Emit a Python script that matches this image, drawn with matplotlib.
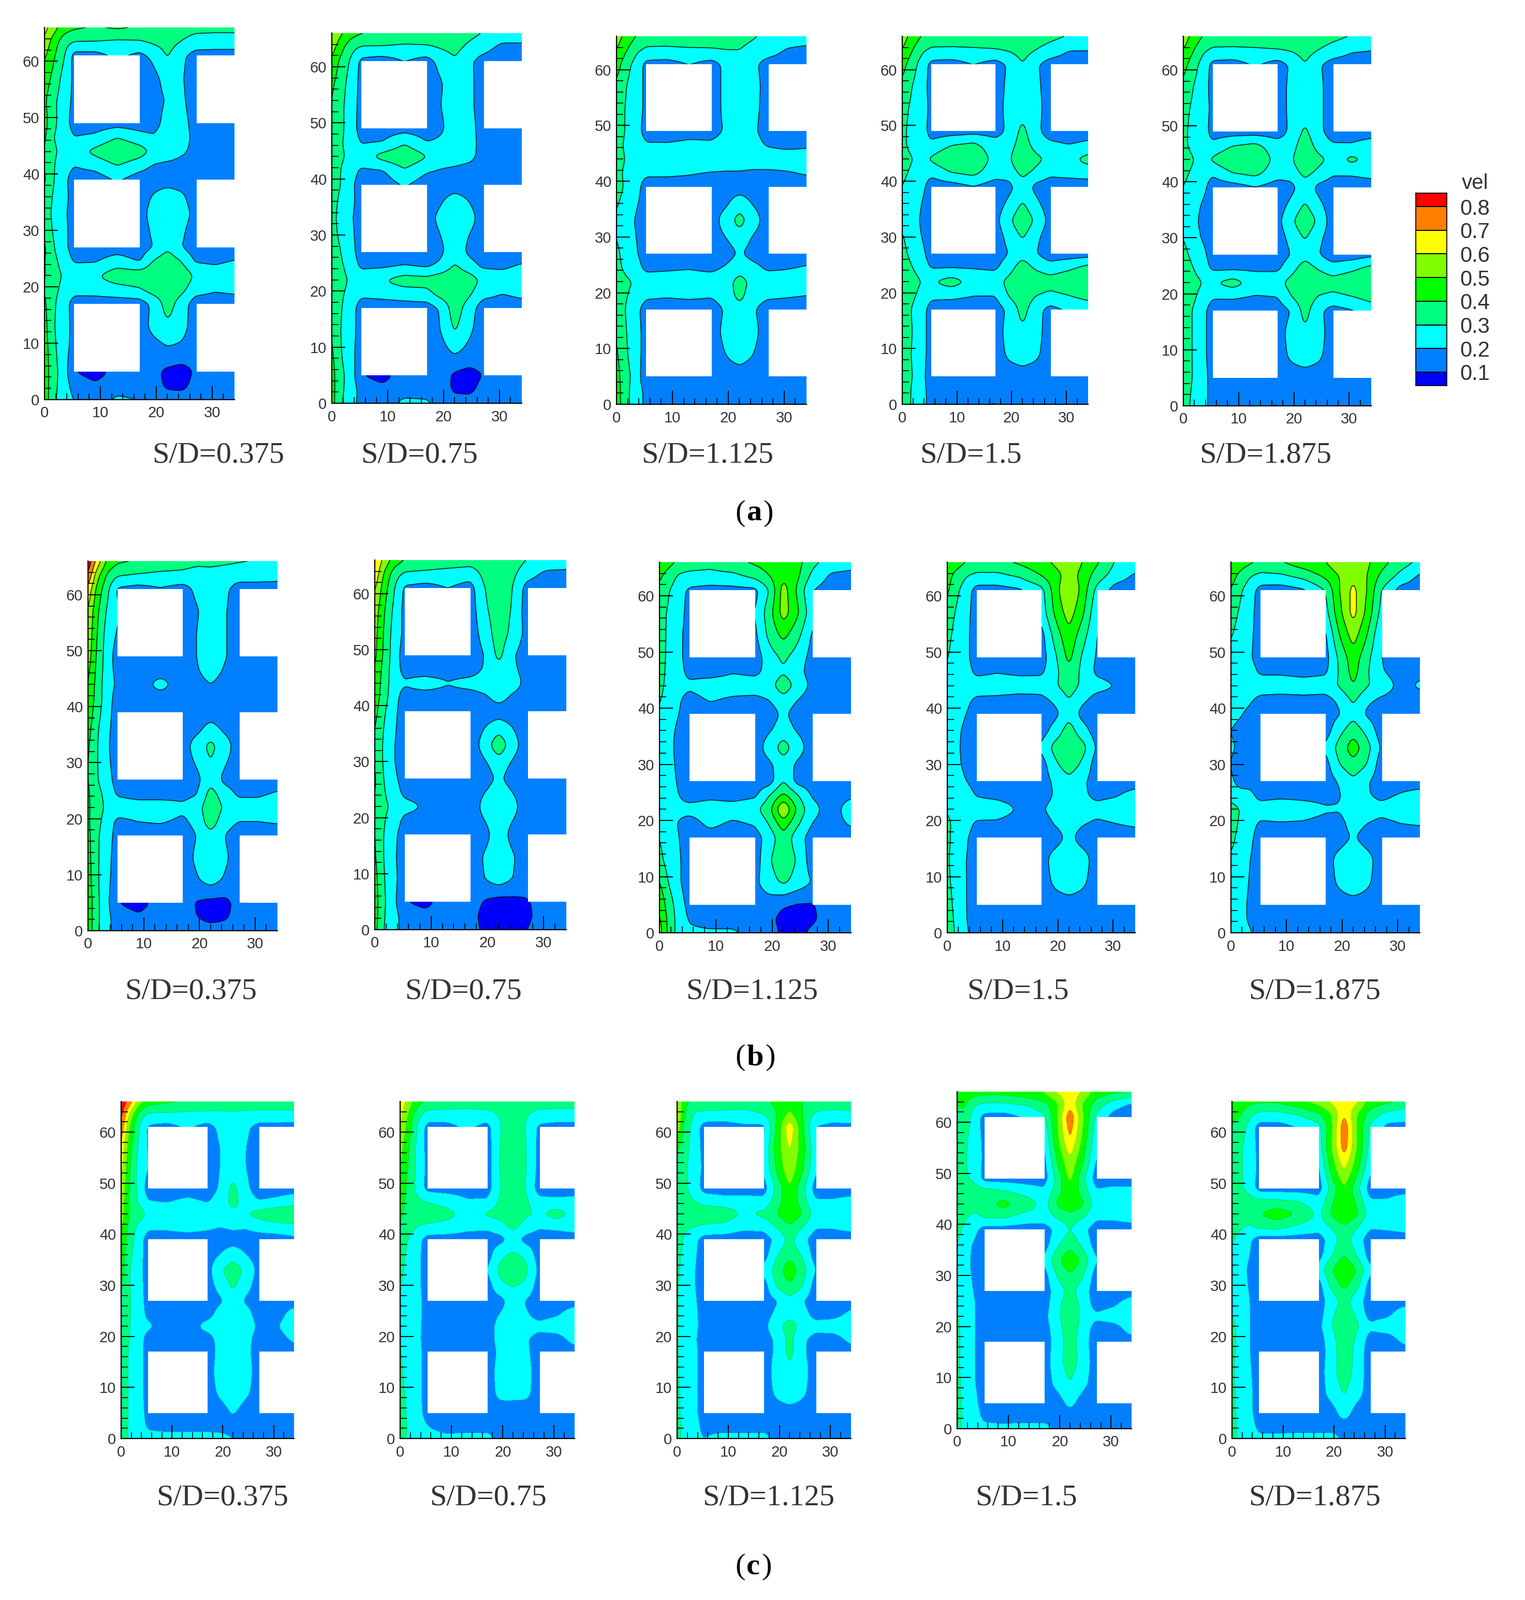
import numpy as np
import matplotlib
matplotlib.use("Agg")
import matplotlib.pyplot as plt
from matplotlib.colors import ListedColormap, BoundaryNorm
from matplotlib.patches import Rectangle

W, H = 2946, 3091
levels = [0.1, 0.2, 0.3, 0.4, 0.5, 0.6, 0.7, 0.8]
colors = ['#0000FF', '#0080FF', '#00FFFF', '#00FF80', '#00FF00', '#80FF00', '#FFFF00', '#FF8000', '#FF0000']
x_nodes = [0, 1.5, 3.5, 5.3, 9, 13, 17, 19.5, 22, 24.5, 27, 30.5, 34]
y_nodes = [66, 63.5, 61, 57, 53, 49, 46.5, 44, 41.5, 39, 36, 33, 30, 27, 24.5, 22, 19.5, 17, 13, 9, 5, 2.5, 0]
blocks_x = [(5.3, 17), (27.2, 36)]
blocks_y = [(5, 17), (27, 39), (49, 61)]
sd_labels = ['S/D=0.375', 'S/D=0.75', 'S/D=1.125', 'S/D=1.5', 'S/D=1.875']

vel_a1 = [[64,55,45,42,40,42,40,38,36,34,33,33,33],[58,46,34,30,30,28,29,32,34,30,26,25,25],[52,42,31,16,16,22,17,22,31,22,16,16,16],[45,38,26,18,15,15,15,17,24,21,15,15,15],[42,33,24,18,15,15,15,16,21,22,15,15,15],[44,33,24,16,15,16,15,16,24,24,16,12,11],[42,30,26,20,22,30,24,21,26,25,17,15,15],[40,32,27,27,33,40,35,28,27,22,17,15,15],[40,31,24,20,23,30,24,19,17,16,15,15,15],[42,31,22,16,15,21,15,15,15,15,15,14,13],[38,29,23,16,15,15,15,21,26,22,15,15,15],[36,28,22,15,15,15,16,24,28,25,17,15,15],[38,29,23,15,15,15,15,22,28,22,15,15,15],[42,31,23,15,15,15,15,20,28,20,15,13,12],[41,33,26,19,19,25,19,31,37,30,19,18,21],[41,34,29,27,29,36,37,38,39,37,29,26,26],[40,33,27,23,24,26,29,35,37,33,24,21,22],[42,32,24,16,15,15,15,22,35,25,15,15,16],[44,31,24,17,15,15,15,23,28,24,15,15,15],[45,33,23,17,15,15,15,16,19,18,15,15,15],[46,34,25,10,5,14,15,12,8,6,11,15,15],[46,34,24,17,12,15,15,14,8,7,13,15,15],[46,33,23,20,15,22,20,15,15,15,15,15,15]]
vel_a2 = [[62,52,44,41,40,40,40,38,36,33,30,27,27],[55,44,33,29,29,27,28,31,33,28,24,17,17],[48,38,28,17,15,20,16,23,29,22,16,15,15],[42,35,25,17,15,15,15,19,26,23,15,15,15],[40,33,24,17,15,15,15,20,25,23,15,15,15],[41,33,24,16,15,16,15,18,26,25,15,12,13],[38,31,26,19,20,29,20,22,27,25,16,15,15],[37,32,27,27,34,38,31,27,27,24,16,15,15],[37,30,24,18,19,29,21,19,17,15,15,15,15],[39,30,22,15,15,21,15,15,15,15,15,14,14],[36,27,22,16,15,15,15,19,25,20,15,15,15],[34,26,21,15,15,15,16,23,27,24,16,15,15],[36,27,22,15,15,15,15,20,26,20,15,15,15],[41,30,23,15,15,15,15,18,26,18,15,15,15],[39,32,25,18,18,20,18,22,31,24,18,18,21],[39,34,28,26,30,35,34,37,39,36,28,25,26],[38,32,26,22,23,25,27,34,38,32,23,20,22],[40,31,24,15,15,15,15,21,36,25,15,15,16],[40,30,23,16,15,15,15,20,31,22,15,15,15],[42,31,22,16,15,15,15,16,21,17,15,15,15],[44,33,25,10,6,15,15,15,8,6,10,15,15],[44,33,24,17,13,15,15,15,8,7,13,15,15],[44,32,22,18,15,23,22,15,15,15,15,15,15]]
vel_a3 = [[55,48,40,36,35,38,36,35,33,31,28,26,26],[50,42,32,28,28,28,29,30,30,27,25,19,17],[45,35,26,17,16,20,16,22,26,22,16,15,15],[38,31,24,18,15,15,16,22,26,24,16,15,15],[34,30,24,18,15,15,16,22,26,23,16,15,15],[34,30,24,16,15,17,16,21,26,22,15,15,15],[33,29,26,21,21,22,22,25,26,24,19,17,18],[33,30,26,27,29,27,29,26,26,26,26,26,26],[32,29,25,22,22,21,19,19,19,18,18,19,21],[34,29,24,15,15,15,15,15,15,15,15,15,15],[31,27,21,16,15,15,15,18,26,19,15,15,15],[29,25,19,15,15,15,15,25,34,25,15,15,15],[30,26,20,15,15,15,15,20,26,19,15,15,15],[32,27,21,15,15,15,15,15,21,16,15,15,15],[33,28,24,17,18,19,17,21,27,23,18,19,21],[37,32,29,26,26,26,26,27,33,28,26,26,25],[37,31,27,22,21,22,21,25,33,25,22,21,20],[38,30,23,15,15,15,15,21,27,21,15,15,15],[39,31,24,16,15,15,15,23,27,23,15,15,15],[42,32,24,16,15,15,15,20,25,20,15,15,15],[44,34,26,12,9,15,15,15,15,15,15,15,15],[45,34,24,18,15,15,15,15,15,15,15,15,15],[46,34,24,18,15,19,20,15,15,15,15,15,15]]
vel_a4 = [[55,48,40,37,36,38,39,38,36,35,33,30,28],[50,42,32,28,28,28,29,31,34,30,26,20,20],[44,36,26,17,16,20,16,21,30,21,16,15,15],[38,31,24,17,15,15,16,22,26,22,16,15,15],[33,29,24,18,15,15,16,23,26,23,16,15,15],[32,28,25,16,15,16,16,22,33,22,16,15,16],[32,28,26,22,30,33,24,25,36,25,22,20,22],[33,31,27,32,40,38,27,28,42,33,28,28,34],[32,29,25,22,30,33,24,24,33,27,22,23,24],[30,27,23,15,15,19,15,17,25,17,15,15,15],[30,26,20,15,15,15,15,22,31,22,15,15,15],[28,24,19,15,15,15,17,28,38,28,17,15,15],[31,26,20,15,15,15,15,23,31,22,15,15,15],[33,28,23,15,15,15,15,20,26,20,15,15,15],[37,31,26,19,19,19,18,26,36,28,24,28,34],[39,34,30,30,35,28,27,33,39,38,35,38,40],[40,33,27,22,22,20,20,31,37,30,27,30,34],[40,30,24,16,15,15,15,22,34,23,17,21,23],[41,31,24,16,15,15,15,24,28,24,15,15,15],[41,30,24,16,15,15,15,22,26,22,15,15,15],[39,31,25,12,10,15,15,15,15,15,15,15,15],[38,30,23,17,15,15,15,15,15,15,15,15,15],[38,30,22,18,15,18,21,15,15,15,15,15,15]]
vel_a5 = [[56,48,40,37,36,38,40,38,37,35,33,30,28],[50,42,32,28,28,28,29,31,34,30,26,21,20],[44,36,26,17,16,21,16,21,30,21,16,15,15],[38,31,24,17,15,15,16,22,26,22,16,15,15],[33,29,24,18,15,15,16,22,26,22,16,15,15],[32,28,25,16,15,15,15,22,32,22,16,15,15],[32,28,26,22,30,33,24,25,37,25,21,21,25],[34,31,27,32,40,38,27,28,42,33,28,33,28],[32,29,25,21,30,33,24,24,33,27,21,21,23],[30,27,23,15,15,19,15,17,25,17,15,15,15],[29,25,19,15,15,15,15,22,31,22,15,15,15],[28,24,17,15,15,15,17,28,38,28,15,15,15],[30,25,19,15,15,15,15,23,31,22,15,15,15],[33,28,23,15,15,15,15,20,26,20,15,15,17],[36,31,25,18,18,18,18,26,36,29,24,28,34],[38,34,30,30,35,27,27,34,39,38,35,38,40],[38,33,26,21,21,19,20,30,37,29,27,30,34],[38,30,23,15,15,15,15,20,34,22,16,19,24],[39,30,23,15,15,15,15,24,28,24,15,15,15],[39,30,23,15,15,15,15,22,26,22,15,15,15],[38,30,25,15,15,15,15,15,15,15,15,15,15],[37,29,23,17,15,15,15,15,15,15,15,15,15],[36,28,22,18,15,18,21,15,15,15,15,15,15]]
vel_b1 = [[88,68,48,42,40,38,35,33,33,32,31,30,30],[80,55,38,31,29,27,27,25,26,25,24,24,24],[68,48,32,18,16,19,16,22,25,22,16,16,15],[60,43,28,21,15,15,15,19,25,21,15,15,15],[58,41,25,19,15,15,15,20,26,21,15,15,15],[56,39,24,16,15,15,15,20,26,21,15,15,15],[53,38,24,17,15,15,15,19,25,19,15,15,15],[51,37,23,19,15,24,15,16,20,16,15,15,15],[50,36,24,16,15,15,15,15,15,15,15,15,15],[48,34,24,14,13,14,15,15,15,15,15,15,15],[44,32,22,15,15,15,15,17,24,18,15,15,15],[42,31,21,15,15,15,15,25,33,25,15,15,15],[41,31,22,15,15,15,15,21,30,21,15,15,15],[41,31,24,15,15,15,15,17,27,17,15,15,15],[42,33,27,18,15,15,17,19,34,25,18,18,21],[42,34,28,27,26,26,22,26,37,29,25,25,27],[42,33,26,17,20,21,18,23,36,24,20,20,21],[43,32,24,16,15,15,15,20,27,20,15,15,15],[44,32,23,15,15,15,15,22,25,22,15,15,15],[45,32,22,15,15,15,15,19,24,19,15,15,15],[47,33,22,10,5,15,15,9,7,7,13,15,15],[47,33,22,16,12,15,15,10,6,8,14,15,15],[47,32,23,15,15,15,15,15,15,15,15,15,15]]
vel_b2 = [[72,58,46,40,38,37,35,36,38,35,30,28,28],[68,50,34,28,27,25,24,33,36,32,24,17,16],[62,46,30,18,16,20,16,30,37,30,16,15,15],[56,42,27,17,15,15,15,28,36,29,15,15,15],[54,40,25,18,15,15,15,24,36,27,17,15,15],[53,39,24,16,15,15,15,20,33,21,15,15,15],[50,37,24,17,15,15,15,21,27,22,16,15,15],[48,36,24,21,25,21,24,26,27,25,17,15,15],[46,35,23,16,15,15,15,18,24,18,15,15,15],[44,32,22,15,15,15,15,15,15,15,15,15,15],[41,30,21,15,15,15,15,20,26,20,15,15,15],[39,29,20,15,15,15,15,24,38,24,15,15,15],[40,29,20,15,15,15,15,19,26,19,15,15,15],[42,30,22,15,15,15,15,15,22,15,15,15,15],[41,31,25,17,15,15,15,20,26,20,15,15,15],[41,32,28,24,19,15,15,23,27,23,15,15,15],[41,31,25,17,15,15,15,20,25,20,15,15,15],[41,30,22,15,15,15,15,17,25,17,15,15,15],[42,30,21,15,15,15,15,21,25,21,15,15,15],[44,31,22,15,15,15,15,20,25,20,15,15,15],[45,32,22,10,7,15,15,9,6,7,9,15,15],[45,31,23,16,13,15,13,7,5,6,8,15,15],[44,30,24,15,15,15,14,8,6,7,10,15,15]]
vel_b3 = [[46,44,38,35,33,38,42,45,46,44,33,26,24],[42,36,28,27,27,27,33,40,48,42,28,18,17],[38,31,24,18,16,17,17,30,55,38,20,15,15],[34,29,24,16,15,15,20,36,55,42,24,15,15],[36,28,22,16,15,15,18,33,43,33,19,15,15],[37,27,22,16,15,15,15,25,32,25,17,15,13],[35,27,23,17,15,19,17,24,29,23,16,13,13],[33,27,24,22,26,26,26,27,36,27,18,15,15],[31,26,21,16,21,18,17,20,27,20,15,15,15],[29,24,20,15,15,15,15,15,22,15,15,13,14],[27,23,18,15,15,15,15,19,25,19,15,15,15],[27,23,17,15,15,15,15,25,35,25,15,15,15],[27,23,18,15,15,15,15,18,26,18,15,15,15],[27,23,19,15,15,15,15,15,30,16,15,13,12],[27,23,20,15,17,15,18,30,42,31,19,15,18],[28,25,23,24,26,26,28,37,62,38,24,15,26],[28,24,19,15,23,18,21,31,46,32,20,15,22],[30,25,20,15,15,15,16,24,37,24,16,13,14],[33,26,21,15,15,15,15,29,38,29,15,15,15],[41,30,21,15,15,15,18,26,32,26,20,15,15],[48,36,24,17,15,15,15,15,11,9,9,15,15],[52,38,25,19,15,15,15,12,7,6,8,15,15],[55,38,25,22,22,22,15,14,8,7,12,15,15]]
vel_b4 = [[44,45,40,38,38,42,47,52,56,50,42,29,26],[44,37,30,27,27,31,40,46,54,47,35,25,18],[42,33,24,16,16,18,26,45,62,46,27,15,15],[38,29,23,15,15,15,24,42,55,42,22,15,15],[34,26,22,15,15,15,16,34,48,34,20,15,15],[31,24,22,15,15,15,15,28,43,28,19,15,15],[28,24,24,17,19,17,18,27,38,27,18,15,15],[27,25,26,26,27,27,25,29,35,28,24,20,18],[25,24,22,18,17,15,17,22,30,22,16,15,15],[24,23,20,15,15,15,15,17,27,16,15,15,15],[23,22,18,15,15,15,15,24,35,24,15,15,15],[24,22,17,15,15,15,22,34,38,34,19,15,15],[25,22,18,15,15,15,15,28,36,28,15,15,15],[25,23,20,15,15,15,15,22,27,22,15,15,15],[27,24,25,19,17,15,15,21,26,22,17,19,24],[29,25,28,27,26,19,19,24,28,26,24,26,28],[33,26,24,18,18,15,15,21,26,21,18,20,22],[33,25,21,15,15,15,15,15,23,15,15,15,15],[32,24,20,15,15,15,15,25,28,25,15,15,15],[33,25,20,15,15,15,15,22,27,22,15,15,15],[36,26,20,14,15,15,15,15,15,15,15,15,15],[38,27,20,15,15,15,15,15,15,15,15,15,15],[40,28,21,16,15,15,15,15,15,15,15,15,15]]
vel_b5 = [[44,45,42,38,40,46,50,58,58,52,44,35,28],[44,38,30,27,28,33,42,50,58,50,38,27,18],[40,32,24,16,15,18,30,50,63,50,30,16,15],[35,29,23,15,15,15,26,47,64,47,27,15,15],[31,26,22,15,15,15,18,40,55,40,21,15,15],[27,24,21,15,15,15,16,32,46,33,20,15,13],[25,24,24,18,18,16,18,31,44,31,21,15,17],[24,25,26,26,26,26,26,31,40,31,27,17,22],[23,23,21,17,16,17,16,22,32,22,18,15,15],[22,21,18,15,15,15,15,19,27,18,15,15,14],[20,18,15,15,15,15,15,27,36,27,15,15,15],[21,19,15,15,15,15,22,34,46,34,19,15,15],[20,17,15,15,15,15,16,30,37,30,15,15,15],[21,18,16,15,15,15,15,21,28,21,15,15,15],[24,22,23,15,15,15,15,19,27,21,17,21,24],[36,30,28,27,33,28,22,21,27,26,24,26,28],[38,28,24,18,18,18,15,16,25,20,17,20,21],[34,26,22,15,15,15,15,15,21,15,15,15,15],[28,25,20,15,15,15,15,24,29,24,15,15,15],[26,25,19,15,15,15,15,22,28,22,15,15,15],[25,24,18,15,15,15,15,15,15,15,15,15,15],[25,24,18,15,15,15,15,15,15,15,15,15,15],[25,24,21,15,15,15,15,15,15,15,15,15,15]]
vel_c1 = [[88,78,56,45,42,40,38,38,37,37,36,36,36],[85,60,36,28,28,27,27,27,28,27,27,27,27],[78,52,30,18,16,21,16,22,26,22,16,16,15],[70,45,28,19,15,15,15,20,26,20,15,15,15],[64,42,26,20,15,15,15,20,26,20,15,15,15],[60,40,27,15,15,15,15,21,33,22,15,15,15],[57,39,28,20,19,22,19,24,34,25,20,22,26],[55,40,36,28,26,27,26,26,27,30,34,38,38],[52,38,27,22,22,24,22,20,22,21,24,26,28],[48,36,24,15,15,15,15,15,15,15,15,15,17],[46,33,24,15,15,15,15,20,26,20,15,15,15],[44,31,23,15,15,15,16,29,36,28,17,15,15],[42,31,24,15,15,15,15,24,32,24,15,15,15],[40,31,25,15,15,14,15,18,26,18,15,15,15],[40,31,25,17,15,15,15,24,26,24,15,15,24],[40,31,23,22,15,15,24,27,28,27,18,19,27],[39,30,24,16,15,15,15,24,26,24,15,15,22],[38,29,24,15,13,15,15,23,27,23,15,15,15],[37,29,24,15,15,15,15,25,29,25,15,15,15],[37,29,24,15,15,15,15,22,27,22,15,15,15],[37,29,25,16,15,15,15,15,21,15,15,15,15],[37,29,25,18,15,15,15,15,15,15,15,15,15],[36,28,25,24,25,25,25,24,20,15,15,15,15]]
vel_c2 = [[68,56,44,38,36,35,37,38,39,38,36,35,35],[64,50,33,26,26,26,26,31,36,31,26,26,26],[60,46,28,16,16,22,16,30,34,30,18,16,16],[54,42,26,17,15,15,15,31,33,31,17,15,15],[50,40,26,18,15,15,15,31,35,31,17,15,15],[47,38,26,16,15,15,15,30,36,30,15,15,15],[44,37,32,30,27,21,21,32,36,32,23,22,23],[42,37,34,34,33,28,32,34,38,32,29,35,27],[40,34,30,29,27,23,22,26,33,26,21,22,24],[37,30,23,15,15,15,15,16,23,16,15,15,15],[34,28,22,15,15,15,15,28,32,28,15,15,15],[32,27,22,15,15,15,20,33,38,33,18,15,15],[31,26,22,15,15,15,15,28,31,28,15,15,15],[30,26,23,15,15,14,15,16,25,19,15,15,15],[30,26,23,15,15,15,15,20,26,21,15,18,25],[30,26,22,16,15,15,15,24,27,25,23,26,28],[30,26,22,15,15,15,15,24,26,21,16,15,24],[31,26,23,15,13,15,15,22,26,22,15,15,15],[32,26,23,15,15,15,15,24,28,24,15,15,15],[34,27,23,15,15,15,15,23,26,23,15,15,15],[36,28,24,15,15,15,15,15,10,14,15,15,15],[37,29,25,20,15,15,15,15,14,15,15,15,15],[36,28,25,24,23,24,24,15,15,15,15,15,15]]
vel_c3 = [[62,42,38,38,38,36,38,43,48,40,38,38,38],[62,40,28,27,26,26,30,40,52,40,28,25,27],[58,36,25,15,15,18,17,42,68,42,19,17,17],[42,34,24,17,15,15,22,45,62,45,23,15,15],[39,32,24,18,15,15,22,42,58,42,22,15,15],[38,32,25,15,15,15,15,33,50,33,15,15,15],[38,33,30,27,24,24,23,35,48,35,21,21,23],[38,36,36,36,37,29,33,40,50,40,26,26,26],[36,32,30,29,27,22,23,31,38,31,21,21,23],[35,28,22,15,15,15,15,22,33,22,15,15,15],[33,27,21,15,15,15,15,29,37,29,15,15,15],[32,26,20,15,15,15,23,35,47,35,20,15,15],[31,26,20,15,15,15,15,32,39,31,15,15,15],[31,26,21,15,15,14,15,19,27,20,15,15,15],[31,26,22,15,15,15,15,22,27,24,15,15,22],[31,26,22,16,15,15,17,28,34,28,24,26,27],[31,26,21,15,15,15,15,22,33,22,16,15,23],[31,26,22,15,15,15,15,22,33,22,15,15,15],[31,26,22,15,15,15,15,24,28,24,15,15,15],[32,27,22,15,15,15,15,22,27,22,15,15,15],[32,27,22,15,15,15,15,15,15,15,15,15,15],[33,27,23,17,15,15,15,15,15,15,15,15,15],[33,27,22,20,24,24,24,15,15,15,15,15,15]]
vel_c4 = [[42,45,46,44,44,48,52,62,66,60,46,43,40],[40,42,30,28,28,30,36,48,68,48,36,24,17],[38,36,24,16,15,20,28,50,78,52,28,15,15],[36,32,25,17,15,15,22,48,72,48,24,15,15],[35,31,25,18,15,15,17,42,60,42,20,15,15],[34,31,28,15,15,15,15,33,53,33,15,15,15],[36,36,34,35,31,26,22,36,47,36,21,23,23],[38,37,37,37,44,38,26,42,48,42,26,26,27],[36,32,26,32,32,26,25,31,36,31,22,22,24],[34,27,22,15,15,15,15,22,30,22,15,15,15],[30,24,18,15,15,15,15,28,37,28,15,15,15],[28,23,17,15,15,15,22,38,48,38,21,15,15],[28,23,18,15,15,15,15,31,39,31,15,15,15],[28,24,19,15,15,13,15,24,34,24,15,15,15],[30,25,20,15,15,15,15,27,36,27,15,18,25],[31,26,20,15,15,15,17,28,37,28,22,25,27],[32,26,20,15,15,15,15,26,36,26,15,15,24],[32,27,20,13,13,15,15,24,36,24,15,15,15],[32,26,20,15,15,15,15,26,35,26,15,15,15],[33,26,20,15,15,15,15,23,30,23,15,15,15],[33,27,22,15,15,15,15,15,23,15,15,15,15],[34,27,24,17,15,15,15,15,15,15,15,15,15],[33,27,24,23,23,24,24,17,15,15,15,15,15]]
vel_c5 = [[42,44,44,42,42,48,55,62,68,62,46,43,37],[42,42,32,27,27,30,38,50,70,50,36,26,24],[40,36,26,15,15,20,26,48,78,50,28,17,17],[37,32,25,17,15,15,24,50,76,50,27,15,15],[37,32,25,18,15,15,18,44,62,44,22,15,15],[36,32,26,15,15,15,15,33,50,33,15,15,15],[38,38,34,33,32,30,23,38,50,38,21,21,26],[38,38,38,40,46,40,28,42,50,42,26,30,27],[36,32,28,33,34,28,24,31,39,31,21,22,24],[32,26,21,15,15,15,15,24,35,24,15,15,15],[28,24,20,15,15,15,15,29,40,29,15,15,15],[28,24,18,15,15,15,24,40,50,40,22,15,15],[28,24,19,15,15,15,15,33,43,33,15,15,15],[28,24,20,15,15,13,15,24,34,24,15,15,15],[30,25,20,15,15,15,15,28,36,28,15,17,26],[33,27,20,15,15,15,17,30,38,32,22,26,28],[33,27,20,15,15,15,15,26,38,28,16,15,24],[33,26,20,15,13,15,15,24,38,26,15,15,15],[32,25,21,15,15,15,15,26,36,26,15,15,15],[33,26,22,15,15,15,15,24,31,24,15,15,15],[34,26,22,15,15,15,15,15,25,15,15,15,15],[34,27,24,17,15,15,15,15,15,15,15,15,15],[34,27,25,22,23,24,24,24,18,15,15,15,15]]

# panel boxes in pixels: left, right, top, bottom
row_a = [(86,453,53,772),(641,1008,64,779),(1191,1558,70,781),(1743,2102,70,781),(2286,2649,70,784)]
row_b = [(170,536,1084,1798),(724,1094,1082,1796),(1274,1644,1086,1802),(1830,2193,1086,1802),(2378,2743,1086,1802)]
row_c = [(234,568,2128,2779),(773,1110,2128,2779),(1308,1644,2128,2779),(1849,2186,2109,2760),(2380,2715,2128,2779)]
fields = [[vel_a1,vel_a2,vel_a3,vel_a4,vel_a5],[vel_b1,vel_b2,vel_b3,vel_b4,vel_b5],[vel_c1,vel_c2,vel_c3,vel_c4,vel_c5]]
label_x = [[422,810,1367,1875,2445],[369,895,1453,1966,2540],[430,943,1485,1982,2540]]
label_y = [880,1915,2893]
tags = [('a',992,1474),('b',2043,1478),('c',3027,1471)]

plt.rcParams['font.family'] = ['Liberation Sans', 'DejaVu Sans']
fig = plt.figure(figsize=(W/100, H/100), dpi=100, facecolor='white')

def px_axes(l, r, t, b):
    return fig.add_axes([l/W, 1-b/H, (r-l)/W, (b-t)/H])

def blur(z, n, axis):
    k = np.hanning(2*n+3)[1:-1]; k = k/k.sum()
    pad = [(0,0),(0,0)]; pad[axis] = (n,n)
    zz = np.pad(z, pad, mode='edge')
    return np.apply_along_axis(lambda v: np.convolve(v, k, mode='valid'), axis, zz)

fx = np.arange(0, 34.01, 0.2)
fy = np.arange(0, 66.01, 0.2)
xn = np.array(x_nodes, float)
yn = np.array(y_nodes, float)[::-1]

def field(grid):
    g = np.array(grid, float)[::-1]/100
    a = np.array([np.interp(fx, xn, r) for r in g])
    b = np.array([np.interp(fy, yn, c) for c in a.T]).T
    return blur(blur(b, 4, 1), 6, 0)

lv = [-1] + levels + [2]
for ri, (row, flds) in enumerate(zip([row_a,row_b,row_c], fields)):
    for ci, (box, grid) in enumerate(zip(row, flds)):
        ax = px_axes(*box)
        Z = field(grid)
        ax.contourf(fx, fy, Z, levels=lv, colors=colors)
        if ri < 2:
            ax.contour(fx, fy, Z, levels=levels, colors='black', linewidths=1.2, alpha=0.85)
        else:
            ax.contour(fx, fy, Z, levels=levels, colors='#336633', linewidths=0.7, alpha=0.3)
        for bx in blocks_x:
            for by in blocks_y:
                ax.add_patch(Rectangle((bx[0], by[0]), bx[1]-bx[0], by[1]-by[0], fc='white', ec='none', zorder=2.2))
        ax.set_xlim(0, 34); ax.set_ylim(0, 66)
        ax.set_axisbelow(False)
        for s in ('top','right'):
            ax.spines[s].set_visible(False)
        for s in ('left','bottom'):
            ax.spines[s].set_linewidth(1.6)
        ax.set_xticks([0,10,20,30]); ax.set_yticks([0,10,20,30,40,50,60])
        ax.set_xticks(np.arange(0,34,2), minor=True); ax.set_yticks(np.arange(0,66,2), minor=True)
        ax.tick_params(axis='both', which='major', direction='in', length=19, width=1.4, labelsize=21, labelcolor='#333333')
        ax.tick_params(axis='both', which='minor', direction='in', length=9, width=1.2)
        ax.tick_params(axis='x', which='major', pad=9)
        ax.tick_params(axis='y', which='major', pad=7)
        fig.text(label_x[ri][ci]/W, 1-label_y[ri]/H, sd_labels[ci], family='Liberation Serif', fontsize=42,
                 color='#333333', ha='center', va='center')

for letter, y, close_x in tags:
    fig.text(1440/W, 1-y/H, '(', family='Liberation Serif', fontsize=42, ha='right', va='center')
    fig.text(1442/W, 1-y/H, letter, family='Liberation Serif', weight='bold', fontsize=42, ha='left', va='center')
    fig.text(close_x/W, 1-y/H, ')', family='Liberation Serif', fontsize=42, ha='left', va='center')

# legend
cb = px_axes(2735, 2795, 373, 745)
bounds = [0.043] + levels + [0.857]
cb.pcolormesh([0,1], bounds, np.arange(len(colors)).reshape(-1,1), cmap=ListedColormap(colors),
              norm=BoundaryNorm(np.arange(len(colors)+1)-0.5, len(colors)), edgecolors='black', linewidth=1.2)
cb.set_xlim(0,1); cb.set_ylim(0.043,0.857)
cb.set_xticks([]); cb.set_yticks(levels)
cb.set_yticklabels([f'{v:.1f}' for v in levels])
cb.yaxis.tick_right()
cb.tick_params(axis='y', length=0, pad=18, labelsize=30, labelcolor='#333333')
for s in cb.spines.values():
    s.set_linewidth(1.2)
fig.text(2850/W, 1-354/H, 'vel', fontsize=29, color='#333333', ha='center', va='center')

fig.savefig('out.png', dpi=100, facecolor='white')
